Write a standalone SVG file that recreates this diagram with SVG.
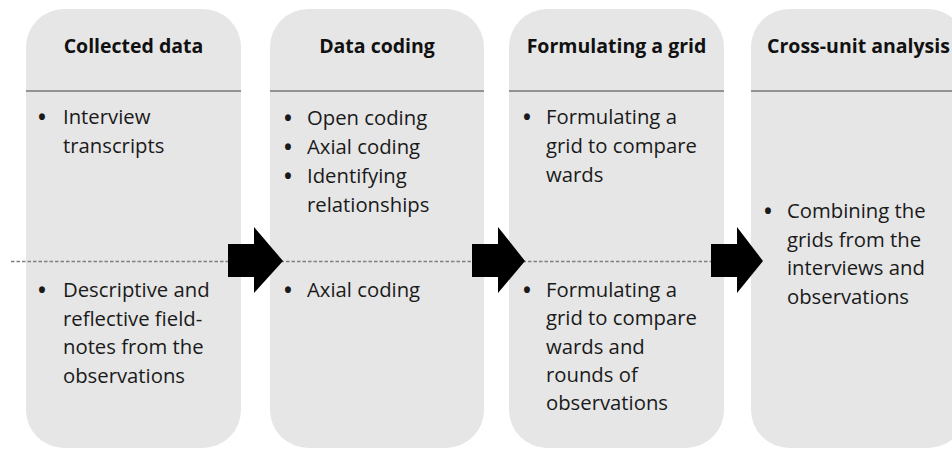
<svg xmlns="http://www.w3.org/2000/svg" width="952" height="449" viewBox="0 0 952 449">
<style>
.box{fill:#e6e6e6}
.hl{stroke:#767676;stroke-width:1.6}
.hd{font-family:"Open Sans","Liberation Sans",sans-serif;font-weight:bold;font-size:19.5px;fill:#111;text-anchor:middle}
.tx{font-family:"Open Sans","Liberation Sans",sans-serif;font-size:20.3px;fill:#1a1a1a}
.bu{font-family:"Open Sans","Liberation Sans",sans-serif;font-size:21px;font-weight:bold;fill:#1a1a1a;text-anchor:middle}
.dash{stroke:#808080;stroke-width:1.4;stroke-dasharray:3.5 2;fill:none}
.arr{fill:#000}
</style>
<rect width="952" height="449" fill="#fff"/>
<g id="box1">
<rect class="box" x="26" y="9" width="215" height="439" rx="38"/>
<line class="hl" x1="26" y1="91" x2="241" y2="91"/>
</g>
<g id="box2">
<rect class="box" x="270" y="9" width="214" height="439" rx="38"/>
<line class="hl" x1="270" y1="91" x2="484" y2="91"/>
</g>
<g id="box3">
<rect class="box" x="509" y="9" width="215" height="439" rx="38"/>
<line class="hl" x1="509" y1="91" x2="724" y2="91"/>
</g>
<g id="box4">
<rect class="box" x="751" y="9" width="215" height="439" rx="38"/>
<line class="hl" x1="751" y1="91" x2="952" y2="91"/>
</g>
<g id="connectors">
<line class="dash" x1="11" y1="261.5" x2="737" y2="261.5"/>
<polygon class="arr" points="228,244 254,244 254,227 283,261 254,293 254,277 228,277"/>
<polygon class="arr" points="472,244 498,244 498,227 525,261 498,293 498,277 472,277"/>
<polygon class="arr" points="711,244 737,244 737,227 763,261 737,293 737,277 711,277"/>
</g>
<g id="text1">
<text class="hd" x="133.5" y="53">Collected data</text>
<text class="bu" x="42" y="124.5">•</text>
<text class="tx" x="63" y="124">Interview</text>
<text class="tx" x="63" y="153">transcripts</text>
<text class="bu" x="42" y="297.5">•</text>
<text class="tx" x="63" y="297">Descriptive and</text>
<text class="tx" x="63" y="325.7">reflective field-</text>
<text class="tx" x="63" y="354.4">notes from the</text>
<text class="tx" x="63" y="383">observations</text>
</g>
<g id="text2">
<text class="hd" x="377" y="53">Data coding</text>
<text class="bu" x="288" y="125.5">•</text>
<text class="tx" x="307" y="125">Open coding</text>
<text class="bu" x="288" y="154.5">•</text>
<text class="tx" x="307" y="154">Axial coding</text>
<text class="bu" x="288" y="183.5">•</text>
<text class="tx" x="307" y="183">Identifying</text>
<text class="tx" x="307" y="212">relationships</text>
<text class="bu" x="288" y="297.5">•</text>
<text class="tx" x="307" y="297">Axial coding</text>
</g>
<g id="text3">
<text class="hd" x="616.5" y="53">Formulating a grid</text>
<text class="bu" x="527" y="124.5">•</text>
<text class="tx" x="546" y="124">Formulating a</text>
<text class="tx" x="546" y="153">grid to compare</text>
<text class="tx" x="546" y="182">wards</text>
<text class="bu" x="527" y="297.5">•</text>
<text class="tx" x="546" y="297">Formulating a</text>
<text class="tx" x="546" y="325.3">grid to compare</text>
<text class="tx" x="546" y="353.6">wards and</text>
<text class="tx" x="546" y="381.9">rounds of</text>
<text class="tx" x="546" y="410.2">observations</text>
</g>
<g id="text4">
<text class="hd" x="858.5" y="53">Cross-unit analysis</text>
<text class="bu" x="768" y="218.5">•</text>
<text class="tx" x="787" y="218">Combining the</text>
<text class="tx" x="787" y="246.5">grids from the</text>
<text class="tx" x="787" y="275">interviews and</text>
<text class="tx" x="787" y="303.5">observations</text>
</g>
</svg>
